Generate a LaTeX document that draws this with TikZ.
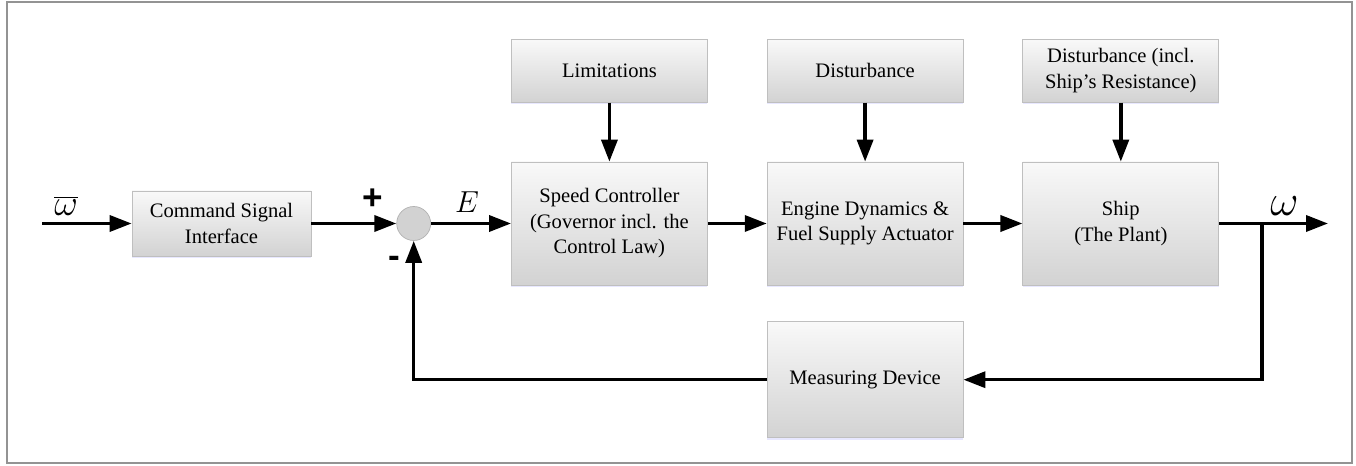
\documentclass[tikz,border=0pt]{standalone}
\usepackage{fontspec}
\setmainfont{Liberation Serif}
\setsansfont{Liberation Sans}
\usetikzlibrary{arrows.meta, positioning, shadows}

\begin{document}
\begin{tikzpicture}[
    node distance=1.18cm,
    block/.style={rectangle, draw=gray!50, top color=gray!5, bottom color=gray!35, align=center, minimum width=3.92cm, minimum height=2.46cm, font=\fontsize{11.7}{14.5}\selectfont, drop shadow={shadow xshift=0pt, shadow yshift=-1.2pt, fill=blue!30, opacity=0.3}},
    input/.style={block, minimum height=1.26cm},
    sumnode/.style={circle, draw=gray!60, fill=gray!35, minimum size=0.68cm, inner sep=0pt},
    arrow/.style={-{Triangle[length=0.44cm, width=0.32cm]}, line width=2pt},
    sign/.style={font=\sffamily\bfseries\fontsize{20}{20}\selectfont}
]
\useasboundingbox (0,0) rectangle (27.12,9.32);
\draw[gray!85, line width=0.8pt] (0.14,0.06) rectangle (27.04,9.28);

\node[input, minimum width=3.58cm, minimum height=1.3cm] (cmd) at (4.43,4.85) {Command Signal\\Interface};
\node[sumnode, right=1.7cm of cmd] (sum) {};
\node[block, right=1.6cm of sum] (speed) {Speed Controller\\(Governor incl. the\\Control Law)};
\node[block, right=of speed] (engine) {Engine Dynamics \&\\Fuel Supply Actuator};
\node[block, right=of engine] (ship) {Ship\\(The Plant)};
\node[input, above=of speed] (lim) {Limitations};
\node[input, above=of engine] (dist) {Disturbance};
\node[input, above=of ship] (shipdist) {Disturbance (incl.\\Ship's Resistance)};
\node[block, minimum height=2.32cm, below=0.72cm of engine] (meas) {Measuring Device};

\coordinate (in) at (0.84,4.85);
\coordinate (branch) at (25.24,4.85);
\coordinate (out) at (26.56,4.85);

\node[sign] (plus) at (7.46,5.33) {+};
\node[sign] (minus) at (7.88,4.08) {-};

\draw[arrow] (in) -- node[above, pos=0.27, font=\fontsize{20}{22}\selectfont] {$\overline{\omega}$} (cmd);
\draw[arrow] (cmd) -- (sum);
\draw[arrow] (sum) -- node[above=2pt, pos=0.45, font=\fontsize{16}{19}\selectfont] {$E$} (speed);
\draw[arrow] (speed) -- (engine);
\draw[arrow] (engine) -- (ship);
\draw[arrow] (ship) -- node[above, pos=0.6, font=\fontsize{23}{25}\selectfont] {$\omega$} (out);
\draw[arrow] (lim) -- (speed);
\draw[arrow] (dist) -- (engine);
\draw[arrow] (shipdist) -- (ship);
\draw[arrow] (branch) |- (meas);
\draw[arrow] (meas) -| (sum);
\end{tikzpicture}
\end{document}
